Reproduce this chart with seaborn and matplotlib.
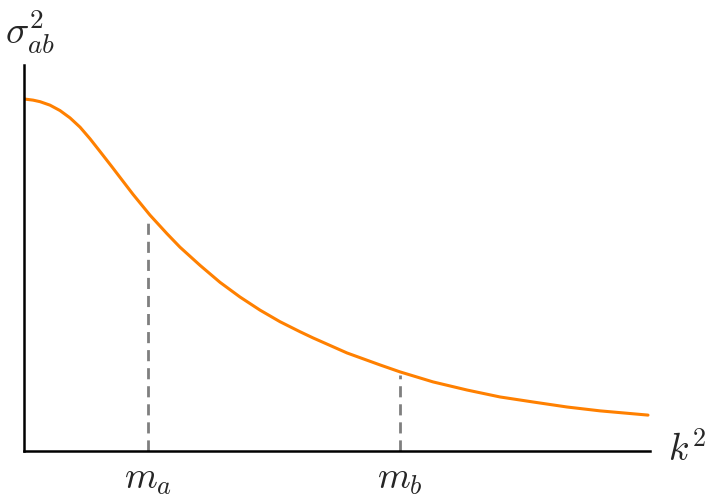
import matplotlib
matplotlib.use("Agg")
import matplotlib.pyplot as plt
import seaborn as sns
import pandas as pd

# Curve values (arbitrary units)
k2 = [0.0, 0.144, 0.256, 0.415, 0.575, 0.735, 0.895, 1.054, 1.214, 1.406, 1.486,
      1.741, 2.013, 2.284, 2.492, 2.812, 3.131, 3.450, 3.770, 4.089, 4.409,
      4.617, 5.160, 5.687, 6.006, 6.534, 7.077, 7.604, 8.131, 8.674, 9.201, 9.968]
sigma2 = [0.912, 0.909, 0.905, 0.896, 0.882, 0.863, 0.839, 0.809, 0.776, 0.736, 0.719,
          0.665, 0.611, 0.563, 0.528, 0.481, 0.437, 0.399, 0.365, 0.335, 0.309,
          0.293, 0.254, 0.223, 0.205, 0.179, 0.158, 0.140, 0.127, 0.114, 0.104, 0.093]

# Marked masses and the curve heights there
mass_pos = [1.98, 6.0]
mass_height = [0.60, 0.198]
mass_labels = [r'$m_a$', r'$m_b$']

sns.set_style("white")
plt.rcParams['mathtext.fontset'] = 'cm'
plt.rcParams['font.family'] = ['DejaVu Sans']

fig = plt.figure(figsize=(7.05, 5.0), dpi=100)
ax = fig.add_axes([24/705, 49/500, 626/705, 386/500])

df = pd.DataFrame({"k2": k2, "sigma2": sigma2})
sns.lineplot(data=df, x="k2", y="sigma2", ax=ax, color="#ff8000", linewidth=2.2)

ax.vlines(mass_pos, 0, mass_height, colors="#7f7f7f", linestyles=(0, (4, 2.5)),
          linewidth=2.0)

ax.set_xlim(0, 10)
ax.set_ylim(0, 1)
ax.set_xticks(mass_pos)
ax.set_xticklabels(mass_labels, fontsize=27)
ax.set_yticks([])
ax.tick_params(axis='x', direction='in', length=7, width=1.5, pad=7, color='black')
ax.set_xlabel("")
ax.set_ylabel("")

for s in ['top', 'right']:
    ax.spines[s].set_visible(False)
for s in ['left', 'bottom']:
    ax.spines[s].set_linewidth(1.8)
    ax.spines[s].set_color('black')

fig.text(5/705, 1 - 32/500, r'$\sigma^2_{ab}$', fontsize=28, va='center', ha='left')
fig.text(668/705, 1 - 450/500, r'$k^2$', fontsize=27, va='center', ha='left')

fig.savefig("out.png", dpi=100)
